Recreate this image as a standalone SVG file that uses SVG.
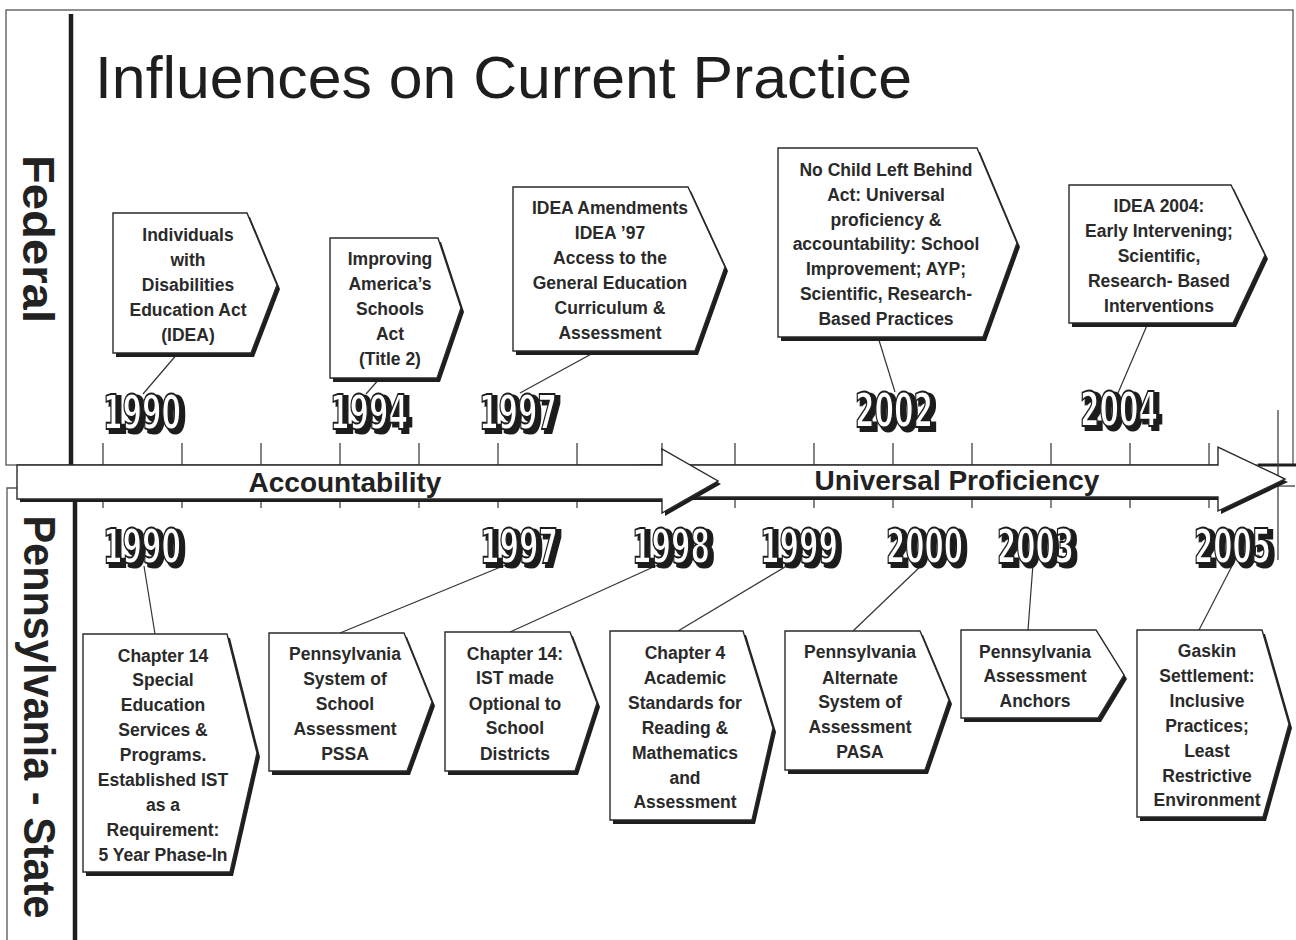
<svg xmlns="http://www.w3.org/2000/svg" width="1296" height="940" viewBox="0 0 1296 940">
<defs>
<filter id="drop" x="-10%" y="-20%" width="130%" height="150%">
<feMorphology in="SourceAlpha" operator="dilate" radius="0.6" result="d"/>
<feOffset in="d" dx="4" dy="3" result="o"/>
<feFlood flood-color="#1e1e1e"/>
<feComposite in2="o" operator="in" result="s"/>
<feMerge><feMergeNode in="s"/><feMergeNode in="SourceGraphic"/></feMerge>
</filter>
</defs>
<style>
.frame{fill:none;stroke:#555;stroke-width:1.3}
.div{stroke:#1e1e1e;stroke-width:4.5}
.box{fill:#fff;stroke:#2a2a2a;stroke-width:1.4;stroke-linejoin:miter}
.shd{fill:#1e1e1e}
.bt{font-family:"Liberation Sans",Arial,sans-serif;font-weight:bold;font-size:17.5px;fill:#2a2a2a;text-anchor:middle}
.yr{font-family:"Liberation Sans Narrow","DejaVu Sans Condensed","Liberation Sans",sans-serif;font-weight:bold;font-size:48px;fill:#fff;stroke:#1e1e1e;stroke-width:1.8}
.conn{stroke:#333;stroke-width:1.2;fill:none}
.tick{stroke:#444;stroke-width:1.3}
.side{font-family:"Liberation Sans",Arial,sans-serif;font-weight:bold;font-size:44px;fill:#222;text-anchor:middle}
.band{font-family:"Liberation Sans",Arial,sans-serif;font-weight:bold;font-size:28px;fill:#222;text-anchor:middle}
</style>
<rect width="1296" height="940" fill="#fff"/>

<g id="frame">
<rect class="frame" x="6" y="10" width="1287" height="455"/>
<path class="frame" d="M1295,486 L7,488 L7,940"/>
<line class="div" x1="71" y1="14" x2="71" y2="466"/>
<line class="div" x1="75" y1="490" x2="75" y2="940"/>
<line x1="1258" y1="465" x2="1296" y2="465" stroke="#1e1e1e" stroke-width="3"/>
<text class="side" transform="translate(23,239) rotate(90)" textLength="168" lengthAdjust="spacingAndGlyphs">Federal</text>
<text class="side" transform="translate(24,717) rotate(90)" textLength="403" lengthAdjust="spacingAndGlyphs">Pennsylvania - State</text>
</g>

<text id="title" x="95" y="98" font-family="'Liberation Sans',Arial,sans-serif" font-size="60" fill="#1e1e1e" textLength="817" lengthAdjust="spacingAndGlyphs">Influences on Current Practice</text>

<g id="ticks">
<path class="tick" d="M103,443V465 M182,443V465 M261,443V465 M340,443V465 M419,443V465 M498,443V465 M577,443V465 M662,443V452 M735,443V465 M814,443V465 M893,443V465 M972,443V465 M1051,443V465 M1130,443V465 M1209,443V465 M1278,410V560"/>
<path class="tick" d="M103,497V508 M182,497V508 M261,497V508 M340,497V508 M419,497V508 M498,497V508 M577,497V508 M735,497V508 M814,497V508 M893,497V508 M972,497V508 M1051,497V508 M1130,497V508 M1209,497V508"/>
</g>

<g id="band">
<polygon class="shd" points="643,468 1221,468 1221,450 1288,482 1221,514 1221,500 643,500"/>
<polygon class="box" points="640,465 1218,465 1218,447 1285,479 1218,511 1218,497 640,497"/>
<polygon class="shd" points="20,468 665,468 665,452 721,484 665,516 665,502 20,502"/>
<polygon class="box" points="17,465 662,465 662,449 718,481 662,513 662,499 17,499"/>
<text class="band" x="345" y="492">Accountability</text>
<text class="band" x="957" y="490">Universal Proficiency</text>
</g>

<g id="connectors">
<line class="conn" x1="178" y1="353" x2="143" y2="394"/>
<line class="conn" x1="380" y1="378" x2="366" y2="394"/>
<line class="conn" x1="595" y1="352" x2="520" y2="393"/>
<line class="conn" x1="878" y1="337" x2="895" y2="392"/>
<line class="conn" x1="1148" y1="323" x2="1118" y2="393"/>
<line class="conn" x1="155" y1="634" x2="144" y2="566"/>
<line class="conn" x1="340" y1="633" x2="508" y2="564"/>
<line class="conn" x1="510" y1="632" x2="660" y2="564"/>
<line class="conn" x1="678" y1="631" x2="790" y2="564"/>
<line class="conn" x1="853" y1="631" x2="923" y2="564"/>
<line class="conn" x1="1028" y1="630" x2="1033" y2="564"/>
<line class="conn" x1="1199" y1="630" x2="1233" y2="564"/>
</g>

<g id="years-federal" class="yr" filter="url(#drop)">
<text x="103" y="429" textLength="78" lengthAdjust="spacingAndGlyphs">1990</text>
<text x="330" y="429" textLength="78" lengthAdjust="spacingAndGlyphs">1994</text>
<text x="479" y="429" textLength="78" lengthAdjust="spacingAndGlyphs">1997</text>
<text x="855" y="427" textLength="78" lengthAdjust="spacingAndGlyphs">2002</text>
<text x="1080" y="426" textLength="78" lengthAdjust="spacingAndGlyphs">2004</text>
</g>

<g id="years-state" class="yr" filter="url(#drop)">
<text x="103" y="563" textLength="78" lengthAdjust="spacingAndGlyphs">1990</text>
<text x="480" y="563" textLength="78" lengthAdjust="spacingAndGlyphs">1997</text>
<text x="632" y="563" textLength="78" lengthAdjust="spacingAndGlyphs">1998</text>
<text x="760" y="563" textLength="78" lengthAdjust="spacingAndGlyphs">1999</text>
<text x="886" y="563" textLength="77" lengthAdjust="spacingAndGlyphs">2000</text>
<text x="997" y="563" textLength="77" lengthAdjust="spacingAndGlyphs">2003</text>
<text x="1194" y="563" textLength="77" lengthAdjust="spacingAndGlyphs">2005</text>
</g>

<g id="f1990">
<polygon class="shd" points="116,217 250,217 280,289 254,357 116,357"/>
<polygon class="box" points="113,213 247,213 277,285 251,353 113,353"/>
<text class="bt"><tspan x="188" y="241">Individuals</tspan><tspan x="188" y="266">with</tspan><tspan x="188" y="291">Disabilities</tspan><tspan x="188" y="316">Education Act</tspan><tspan x="188" y="341">(IDEA)</tspan></text>
</g>
<g id="f1994">
<polygon class="shd" points="333,242 441,242 464,312 440,382 333,382"/>
<polygon class="box" points="330,238 438,238 461,308 437,378 330,378"/>
<text class="bt"><tspan x="390" y="265">Improving</tspan><tspan x="390" y="290">America’s</tspan><tspan x="390" y="315">Schools</tspan><tspan x="390" y="340">Act</tspan><tspan x="390" y="365">(Title 2)</tspan></text>
</g>
<g id="f1997">
<polygon class="shd" points="516,191 691,191 728,271 698,355 516,355"/>
<polygon class="box" points="513,187 688,187 725,267 695,351 513,351"/>
<text class="bt"><tspan x="610" y="214">IDEA Amendments</tspan><tspan x="610" y="239">IDEA ’97</tspan><tspan x="610" y="264">Access to the</tspan><tspan x="610" y="289">General Education</tspan><tspan x="610" y="314">Curriculum &amp;</tspan><tspan x="610" y="339">Assessment</tspan></text>
</g>
<g id="f2002">
<polygon class="shd" points="781,152 980,152 1020,247 986,341 781,341"/>
<polygon class="box" points="778,148 977,148 1017,243 983,337 778,337"/>
<text class="bt"><tspan x="886" y="176">No Child Left Behind</tspan><tspan x="886" y="201">Act: Universal</tspan><tspan x="886" y="226">proficiency &amp;</tspan><tspan x="886" y="250">accountability: School</tspan><tspan x="886" y="275">Improvement; AYP;</tspan><tspan x="886" y="300">Scientific, Research-</tspan><tspan x="886" y="325">Based  Practices</tspan></text>
</g>
<g id="f2004">
<polygon class="shd" points="1072,189 1234,189 1268,259 1236,327 1072,327"/>
<polygon class="box" points="1069,185 1231,185 1265,255 1233,323 1069,323"/>
<text class="bt"><tspan x="1159" y="212">IDEA 2004:</tspan><tspan x="1159" y="237">Early Intervening;</tspan><tspan x="1159" y="262">Scientific,</tspan><tspan x="1159" y="287">Research- Based</tspan><tspan x="1159" y="312">Interventions</tspan></text>
</g>

<g id="s1990">
<polygon class="shd" points="86,638 230,638 260,757 233,876 86,876"/>
<polygon class="box" points="83,634 227,634 257,753 230,872 83,872"/>
<text class="bt"><tspan x="163" y="662">Chapter 14</tspan><tspan x="163" y="686">Special</tspan><tspan x="163" y="711">Education</tspan><tspan x="163" y="736">Services &amp;</tspan><tspan x="163" y="761">Programs.</tspan><tspan x="163" y="786">Established IST</tspan><tspan x="163" y="811">as a</tspan><tspan x="163" y="836">Requirement:</tspan><tspan x="163" y="861">5 Year Phase-In</tspan></text>
</g>
<g id="s1997">
<polygon class="shd" points="272,637 407,637 435,706 410,775 272,775"/>
<polygon class="box" points="269,633 404,633 432,702 407,771 269,771"/>
<text class="bt"><tspan x="345" y="660">Pennsylvania</tspan><tspan x="345" y="685">System of</tspan><tspan x="345" y="710">School</tspan><tspan x="345" y="735">Assessment</tspan><tspan x="345" y="760">PSSA</tspan></text>
</g>
<g id="s1998">
<polygon class="shd" points="448,636 573,636 600,707 578,775 448,775"/>
<polygon class="box" points="445,632 570,632 597,703 575,771 445,771"/>
<text class="bt"><tspan x="515" y="660">Chapter 14:</tspan><tspan x="515" y="684">IST  made</tspan><tspan x="515" y="710">Optional to</tspan><tspan x="515" y="734">School</tspan><tspan x="515" y="760">Districts</tspan></text>
</g>
<g id="s1999">
<polygon class="shd" points="613,635 746,635 776,732 755,824 613,824"/>
<polygon class="box" points="610,631 743,631 773,728 752,820 610,820"/>
<text class="bt"><tspan x="685" y="659">Chapter 4</tspan><tspan x="685" y="684">Academic</tspan><tspan x="685" y="709">Standards for</tspan><tspan x="685" y="734">Reading &amp;</tspan><tspan x="685" y="759">Mathematics</tspan><tspan x="685" y="784">and</tspan><tspan x="685" y="808">Assessment</tspan></text>
</g>
<g id="s2000">
<polygon class="shd" points="788,635 923,635 952,704 928,774 788,774"/>
<polygon class="box" points="785,631 920,631 949,700 925,770 785,770"/>
<text class="bt"><tspan x="860" y="658">Pennsylvania</tspan><tspan x="860" y="684">Alternate</tspan><tspan x="860" y="708">System of</tspan><tspan x="860" y="733">Assessment</tspan><tspan x="860" y="758">PASA</tspan></text>
</g>
<g id="s2003">
<polygon class="shd" points="964,634 1099,634 1127,679 1101,722 964,722"/>
<polygon class="box" points="961,630 1096,630 1124,675 1098,718 961,718"/>
<text class="bt"><tspan x="1035" y="658">Pennsylvania</tspan><tspan x="1035" y="682">Assessment</tspan><tspan x="1035" y="707">Anchors</tspan></text>
</g>
<g id="s2005">
<polygon class="shd" points="1140,634 1265,634 1292,728 1266,821 1140,821"/>
<polygon class="box" points="1137,630 1262,630 1289,724 1263,817 1137,817"/>
<text class="bt"><tspan x="1207" y="657">Gaskin</tspan><tspan x="1207" y="682">Settlement:</tspan><tspan x="1207" y="707">Inclusive</tspan><tspan x="1207" y="732">Practices;</tspan><tspan x="1207" y="757">Least</tspan><tspan x="1207" y="782">Restrictive</tspan><tspan x="1207" y="806">Environment</tspan></text>
</g>
</svg>
